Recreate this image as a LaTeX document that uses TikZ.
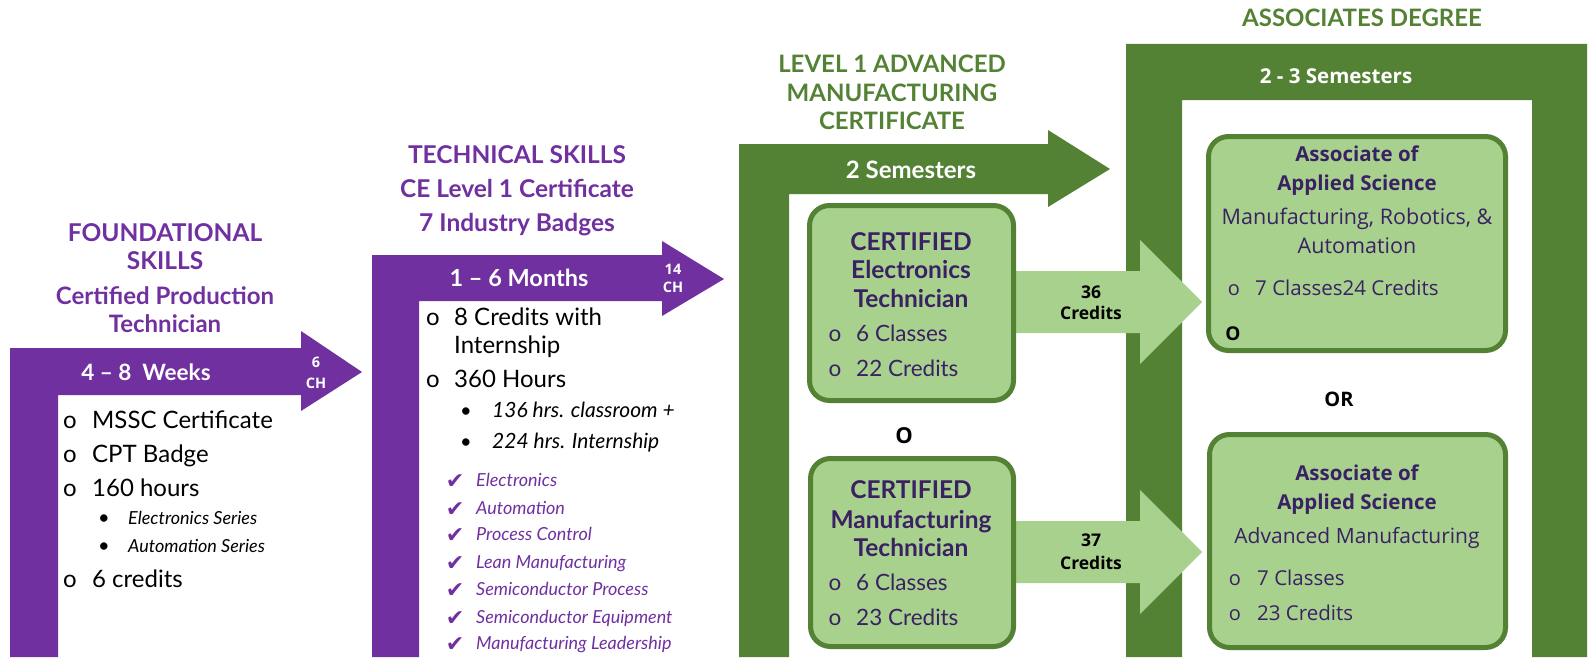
\documentclass[tikz,border=0pt]{standalone}
\usepackage{fontspec}
\setmainfont{Lato}
\newfontfamily\osans{Open Sans}
\newfontfamily\djsans{DejaVu Sans}
\definecolor{purp}{HTML}{7030A0}
\definecolor{dgreen}{HTML}{548235}
\definecolor{lgreen}{HTML}{A9D18E}
\definecolor{boxtxt}{HTML}{3A2163}
\newcommand\myfs[1]{\fontsize{#1}{#1}\selectfont}
\begin{document}
\begin{tikzpicture}[x=1pt,y=-1pt,
  txt/.style={inner sep=0pt, anchor=base},
  txl/.style={inner sep=0pt, anchor=base west},
  ph/.style={txt, text=purp, font=\bfseries\myfs{24.5}},
  gh/.style={txt, text=dgreen, font=\bfseries\myfs{24}},
  bandtxt/.style={txt, text=white, font=\bfseries\myfs{22.5}},
  chtxt/.style={txt, text=white, font=\osans\bfseries\myfs{14.5}},
  item/.style={txl, font=\myfs{24}},
  bul/.style={txt, font=\myfs{24}},
  dot/.style={txt, font=\myfs{20}},
  subi/.style={txl, font=\itshape\myfs{18}},
  subii/.style={txl, font=\itshape\myfs{21}},
  chk/.style={txt, text=purp, font=\djsans\myfs{22}},
  chkt/.style={txl, text=purp, font=\itshape\myfs{18}},
  bx/.style={draw=dgreen, line width=5pt, fill=lgreen, rounded corners=20pt, inner sep=0pt, outer sep=0pt},
  bt/.style={txt, text=boxtxt, font=\bfseries\myfs{24.5}},
  bi/.style={txl, text=boxtxt, font=\myfs{22.5}},
  bo/.style={txt, text=boxtxt, font=\myfs{22.5}},
  asct/.style={txt, text=boxtxt, font=\osans\bfseries\myfs{20.5}},
  ascr/.style={txt, text=boxtxt, font=\osans\myfs{21}},
  asci/.style={txl, text=boxtxt, font=\osans\myfs{20.5}},
  asco/.style={txt, text=boxtxt, font=\osans\myfs{20}},
  cred/.style={txt, text=black, font=\osans\bfseries\myfs{17.5}},
  orl/.style={txt, text=black, font=\osans\bfseries\myfs{20}}
]
\useasboundingbox (0,0) rectangle (1589,661);

% ---------- purple bent arrow 1 ----------
\fill[purp] (10,657) -- (10,348) -- (301,348) -- (301,331) -- (362,372) -- (301,411) -- (301,395) -- (58,395) -- (58,657) -- cycle;
% ---------- purple bent arrow 2 ----------
\fill[purp] (372,657) -- (372,255) -- (662,255) -- (662,241) -- (724,279) -- (662,316) -- (662,301) -- (419,301) -- (419,657) -- cycle;
% ---------- green bent arrow ----------
\fill[dgreen] (739,657) -- (739,144) -- (1048,144) -- (1048,130) -- (1110,169) -- (1048,207) -- (1048,194) -- (789,194) -- (789,657) -- cycle;
% ---------- associates frame ----------
\fill[dgreen] (1126,657) -- (1126,44) -- (1587,44) -- (1587,657) -- (1532,657) -- (1532,100) -- (1182,100) -- (1182,657) -- cycle;

% ---------- light green arrows ----------
\fill[lgreen] (1000,271) -- (1140,271) -- (1140,240) -- (1202,302) -- (1140,364) -- (1140,333) -- (1000,333) -- cycle;
\fill[lgreen] (1000,521) -- (1140,521) -- (1140,490) -- (1202,552) -- (1140,614) -- (1140,583) -- (1000,583) -- cycle;

% ---------- boxes ----------
\node[bx, minimum width=204pt, minimum height=195pt] (b1) at (911.5,303) {};
\node[bx, minimum width=203pt, minimum height=188pt] (b2) at (912,552.5) {};
\node[bx, minimum width=297pt, minimum height=214pt] (b3) at (1357,243.5) {};
\node[bx, minimum width=296pt, minimum height=213pt] (b4) at (1357.5,541) {};

% ---------- foundational ----------
\node[ph] (f1) at (165,241) {FOUNDATIONAL};
\node[ph] (f2) at (165,269) {SKILLS};
\node[ph, font=\bfseries\myfs{24}] (f3) at (165,304) {Certified Production};
\node[ph, font=\bfseries\myfs{24}] (f4) at (165,332) {Technician};
\node[bandtxt] (f5) at (146,380) {4 – 8\ \ Weeks};
\node[chtxt] (f6) at (316,367.5) {6};
\node[chtxt] (f7) at (316,388.5) {CH};
\node[bul] (fo1) at (70,428) {o};
\node[item] (fi1) at (92,428) {MSSC Certificate};
\node[bul] (fo2) at (70,462) {o};
\node[item] (fi2) at (92,462) {CPT Badge};
\node[bul] (fo3) at (70,496) {o};
\node[item] (fi3) at (92,496) {160 hours};
\node[dot] (fd1) at (104,524) {\textbullet};
\node[subi] (fs1) at (128,524) {Electronics Series};
\node[dot] (fd2) at (104,552) {\textbullet};
\node[subi] (fs2) at (128,552) {Automation Series};
\node[bul] (fo4) at (70,587) {o};
\node[item] (fi4) at (92,587) {6 credits};

% ---------- technical ----------
\node[ph] (t1) at (517,163) {TECHNICAL SKILLS};
\node[ph] (t2) at (517,197) {CE Level 1 Certificate};
\node[ph] (t3) at (517,231) {7 Industry Badges};
\node[bandtxt, font=\bfseries\myfs{23.5}] (t4) at (519,286.5) {1 – 6 Months};
\node[chtxt] (t5) at (673,274.5) {14};
\node[chtxt] (t6) at (673,292.5) {CH};
\node[bul] (to1) at (433,325) {o};
\node[item] (ti1) at (454,325) {8 Credits with};
\node[item] (ti2) at (454,353) {Internship};
\node[bul] (to2) at (433,387) {o};
\node[item] (ti3) at (454,387) {360 Hours};
\node[dot] (td1) at (466,417.5) {\textbullet};
\node[subii] (ts1) at (492,417.5) {136 hrs. classroom +};
\node[dot] (td2) at (466,448.5) {\textbullet};
\node[subii] (ts2) at (492,448.5) {224 hrs. Internship};
\foreach \yy/\lab [count=\k] in {486.5/Electronics, 514.5/Automation, 540.5/Process Control, 568.5/Lean Manufacturing, 595.5/Semiconductor Process, 623.5/Semiconductor Equipment, 649.5/Manufacturing Leadership}{
  \node[chk] (c\k) at (455,\yy+1.5) {✔};
  \node[chkt] (ct\k) at (476,\yy) {\lab};
}

% ---------- level 1 ----------
\node[gh] (g1) at (892,72.5) {LEVEL 1 ADVANCED};
\node[gh] (g2) at (892,101.5) {MANUFACTURING};
\node[gh] (g3) at (892,129.5) {CERTIFICATE};
\node[bandtxt, font=\bfseries\myfs{24}] (g4) at (911,178.5) {2 Semesters};

\node[bt] (e1) at (911,250.5) {CERTIFIED};
\node[bt] (e2) at (911,278.5) {Electronics};
\node[bt] (e3) at (911,307.5) {Technician};
\node[bo] (eo1) at (835,341) {o};
\node[bi] (ei1) at (856,341) {6 Classes};
\node[bo] (eo2) at (835,376) {o};
\node[bi] (ei2) at (856,376) {22 Credits};

\node[orl, font=\osans\bfseries\myfs{22}] (o1) at (904,443) {O};

\node[bt] (m1) at (911,498.5) {CERTIFIED};
\node[bt] (m2) at (911,528.5) {Manufacturing};
\node[bt] (m3) at (911,556.5) {Technician};
\node[bo] (mo1) at (835,590) {o};
\node[bi] (mi1) at (856,590) {6 Classes};
\node[bo] (mo2) at (835,625) {o};
\node[bi] (mi2) at (856,625) {23 Credits};

\node[cred] (k1) at (1091,298) {36};
\node[cred] (k2) at (1091,319) {Credits};
\node[cred] (k3) at (1091,546) {37};
\node[cred] (k4) at (1091,569) {Credits};

% ---------- associates ----------
\node[gh] (a0) at (1362,26.5) {ASSOCIATES DEGREE};
\node[txt, text=white, font=\osans\bfseries\myfs{20.5}] (a00) at (1336,83.3) {2 - 3 Semesters};

\node[asct] (p1) at (1357,161.3) {Associate of};
\node[asct] (p2) at (1357,190.3) {Applied Science};
\node[ascr, font=\osans\myfs{21.5}] (p3) at (1357,224.5) {Manufacturing, Robotics, \&};
\node[ascr, font=\osans\myfs{21.5}] (p4) at (1357,253.5) {Automation};
\node[asco] (po1) at (1234,295) {o};
\node[asci] (pi1) at (1255,295) {7 Classes24 Credits};
\node[orl, font=\osans\bfseries\myfs{19}] (po2) at (1233,340) {O};

\node[orl] (or) at (1339,406) {OR};

\node[asct] (q1) at (1357,480.3) {Associate of};
\node[asct] (q2) at (1357,509.3) {Applied Science};
\node[ascr] (q3) at (1357,543) {Advanced Manufacturing};
\node[asco] (qo1) at (1235,585) {o};
\node[asci] (qi1) at (1257,585) {7 Classes};
\node[asco] (qo2) at (1235,620) {o};
\node[asci] (qi2) at (1257,620) {23 Credits};
\end{tikzpicture}
\end{document}
